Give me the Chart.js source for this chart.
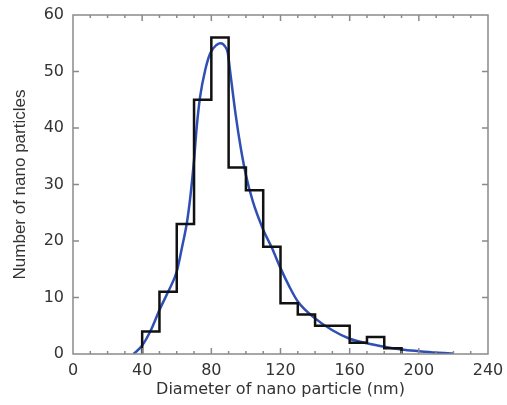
<!DOCTYPE html>
<html>
<head>
<meta charset="utf-8">
<script src="https://cdn.jsdelivr.net/npm/chart.js@4"></script>
<style>
  html, body { margin: 0; padding: 0; background: #fff; }
  #wrap { width: 507px; height: 405px; }
</style>
</head>
<body>
<div id="wrap"><canvas id="grafica"></canvas></div>
<script>
// histogram bins (left edge, nm) and counts
const binStart = [40, 50, 60, 70, 80, 90, 100, 110, 120, 130, 140, 150, 160, 170, 180]
const conteos = [4, 11, 23, 45, 56, 33, 29, 19, 9, 7, 5, 5, 2, 3, 1]
const anchoBin = 10

// fitted curve
const ajusteX = [35, 40, 45, 50, 55, 60, 63, 66, 68, 70, 71.5, 73.5, 76.5, 79.5, 83, 85.5, 88, 89.5, 91, 94, 97, 100, 104, 110, 115, 120, 125, 130, 140, 150, 160, 170, 180, 190, 200, 210, 220]
const ajusteY = [0, 1.5, 4.2, 7.8, 11, 14.6, 18.8, 23.5, 28.2, 34.3, 40, 45.5, 50.3, 53.3, 54.7, 55, 54.4, 53.3, 49.7, 42.5, 36.5, 31.7, 27, 22, 18.8, 15.2, 12, 9.3, 6.3, 4.2, 2.7, 1.9, 1.3, 0.8, 0.5, 0.25, 0.1]

const ticksX = [0, 40, 80, 120, 160, 200, 240]
const ticksY = [0, 10, 20, 30, 40, 50, 60]

// step points for the histogram outline: each bin's count placed at its right edge
let puntosHist = [{x: binStart[0], y: 0}]
for (let i = 0; i < binStart.length; i++) {
  puntosHist.push({x: binStart[i] + anchoBin, y: conteos[i]})
}
puntosHist.push({x: binStart[binStart.length - 1] + anchoBin, y: 0})

let puntosAjuste = []
for (let i = 0; i < ajusteX.length; i++) {
  puntosAjuste.push({x: ajusteX[i], y: ajusteY[i]})
}

const colorTexto = '#333'
const colorMarco = '#8a8a8a'

// frame and inward ticks like the original plot
const marcoPlugin = {
  id: 'marco',
  afterDatasetsDraw(chart) {
    const ctx = chart.ctx
    const a = chart.chartArea
    const sx = chart.scales.x
    const sy = chart.scales.y
    ctx.save()
    ctx.strokeStyle = colorMarco
    ctx.lineWidth = 1.5
    ctx.strokeRect(a.left, a.top, a.right - a.left, a.bottom - a.top)
    ctx.beginPath()
    for (let v = 10; v < 240; v += 10) {
      const px = sx.getPixelForValue(v)
      const largo = v % 40 === 0 ? 6 : 3
      ctx.moveTo(px, a.bottom); ctx.lineTo(px, a.bottom - largo)
      ctx.moveTo(px, a.top); ctx.lineTo(px, a.top + largo)
    }
    for (let v = 10; v < 60; v += 10) {
      const py = sy.getPixelForValue(v)
      ctx.moveTo(a.left, py); ctx.lineTo(a.left + 6, py)
      ctx.moveTo(a.right, py); ctx.lineTo(a.right - 6, py)
    }
    ctx.stroke()
    ctx.restore()
  }
}

const fuente = { family: "'DejaVu Sans', sans-serif", size: 16 }

const myChart = new Chart(document.getElementById('grafica'), {
  type: 'line',
  data: {
    datasets: [{
      label: 'Histograma',
      data: puntosHist,
      stepped: 'after',
      borderColor: '#111',
      borderWidth: 2.5,
      pointRadius: 0,
      fill: false
    }, {
      label: 'Ajuste',
      data: puntosAjuste,
      borderColor: '#2f4fb4',
      borderWidth: 2.5,
      pointRadius: 0,
      cubicInterpolationMode: 'monotone',
      fill: false
    }]
  },
  options: {
    responsive: true,
    maintainAspectRatio: false,
    animation: false,
    layout: { padding: { left: 0, top: 15, right: 19, bottom: 0 } },
    plugins: { legend: { display: false }, tooltip: { enabled: false } },
    scales: {
      x: {
        type: 'linear',
        min: 0, max: 240,
        afterBuildTicks: (s) => { s.ticks = ticksX.map(v => ({value: v})) },
        afterFit: (s) => { s.height = 51; s.paddingLeft = 0; s.paddingRight = 0 },
        grid: { display: false, drawTicks: false },
        border: { display: false },
        ticks: { color: colorTexto, font: fuente, padding: 7, maxRotation: 0 },
        title: { display: true, text: 'Diameter of nano particle (nm)', color: colorTexto,
                 font: { family: fuente.family, size: 16 }, padding: { top: 0, bottom: 6 } }
      },
      y: {
        type: 'linear',
        min: 0, max: 60,
        afterBuildTicks: (s) => { s.ticks = ticksY.map(v => ({value: v})) },
        afterFit: (s) => { s.width = 73; s.paddingTop = 0; s.paddingBottom = 0 },
        grid: { display: false, drawTicks: false },
        border: { display: false },
        ticks: { color: colorTexto, font: fuente, padding: 9 },
        title: { display: true, text: 'Number of nano particles', color: colorTexto,
                 font: { family: "'Liberation Sans', Arial, sans-serif", size: 17 }, padding: { top: 10, bottom: 0 } }
      }
    }
  },
  plugins: [marcoPlugin]
})
</script>
</body>
</html>
